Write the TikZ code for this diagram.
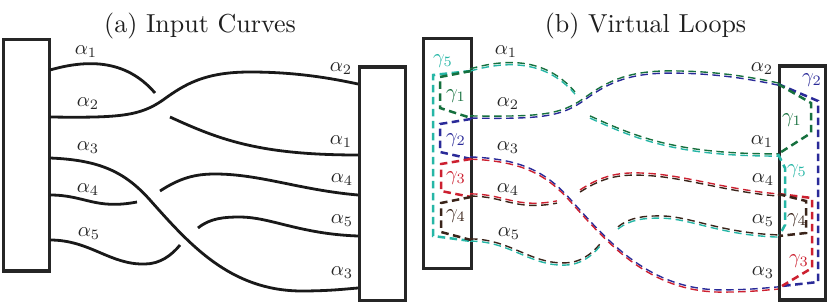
\documentclass[tikz,border=0pt]{standalone}
\definecolor{cgreen}{RGB}{22,112,62}
\definecolor{ccyan}{RGB}{38,182,166}
\definecolor{cblue}{RGB}{42,42,152}
\definecolor{cred}{RGB}{204,32,48}
\definecolor{cbrown}{RGB}{58,36,26}
\def\cAa{(50,70) .. controls (85,60) and (125,58) .. (155,93)}
\def\cAb{(170,117) .. controls (220,140) and (260,155) .. (358,155)}
\def\cB{(50,117) .. controls (120,118) and (140,116) .. (163,100) .. controls (185,84) and (205,72) .. (250,72) .. controls (295,72) and (330,78) .. (358,84)}
\def\cC{(50,158) .. controls (100,160) and (125,172) .. (150,200) .. controls (190,245) and (230,290) .. (300,291) .. controls (330,291) and (345,289) .. (358,288)}
\def\cDa{(50,195) .. controls (85,195) and (95,210) .. (137,202)}
\def\cDb{(160,191) .. controls (180,178) and (195,174) .. (215,174) .. controls (260,174) and (300,190) .. (358,195)}
\def\cEa{(50,240) .. controls (90,240) and (110,265) .. (145,264) .. controls (160,264) and (172,255) .. (180,245)}
\def\cEb{(198,228) .. controls (210,218) and (225,217) .. (240,217) .. controls (270,217) and (300,234) .. (358,236)}
\begin{document}
\begin{tikzpicture}[x=1pt,y=-1pt,
  boxr/.style={draw=black!85, line width=3.2pt, inner sep=0pt, outer sep=0pt},
  curve/.style={line width=2.8pt, black!90},
  vl/.style={line width=1.4pt, dash pattern=on 7.5pt off 4.5pt},
  vup/.style={vl, yshift=1.1pt},
  vdn/.style={vl, yshift=-1.1pt},
  lp/.style={line width=2.5pt, dash pattern=on 7.5pt off 4.5pt},
  ttl/.style={font=\fontsize{10}{12}\selectfont, scale=2.6, transform shape, anchor=base, inner sep=0pt, text=black!88},
  al/.style={font=\fontsize{10}{12}\selectfont, scale=2.05, transform shape, inner sep=0pt, text=black!85},
]
\useasboundingbox (0,0) rectangle (830,307);

% ---------- (a) ----------
\node[ttl] (ta) at (200,33) {(a) Input Curves};
\node[boxr, minimum width=46pt, minimum height=231.5pt] (aL) at (26.3,155.25) {};
\node[boxr, minimum width=46pt, minimum height=233.5pt] (aR) at (382.7,183.75) {};
\draw[curve] \cAa;
\draw[curve] \cAb;
\draw[curve] \cB;
\draw[curve] \cC;
\draw[curve] \cDa;
\draw[curve] \cDb;
\draw[curve] \cEa;
\draw[curve] \cEb;
\node[al] (aa1) at (86,52) {$\alpha_1$};
\node[al] (aa2) at (88,104) {$\alpha_2$};
\node[al] (aa3) at (88,148) {$\alpha_3$};
\node[al] (aa4) at (88,190) {$\alpha_4$};
\node[al] (aa5) at (89,234) {$\alpha_5$};
\node[al] (ab2) at (341,69) {$\alpha_2$};
\node[al] (ab1) at (341,142) {$\alpha_1$};
\node[al] (ab4) at (342,180) {$\alpha_4$};
\node[al] (ab5) at (342,221) {$\alpha_5$};
\node[al] (ab3) at (342,273) {$\alpha_3$};

% ---------- (b) ----------
\node[ttl] (tb) at (645.5,33) {(b) Virtual Loops};
\node[boxr, minimum width=47.6pt, minimum height=230pt] (bL) at (447.5,153.5) {};
\node[boxr, minimum width=46pt, minimum height=234pt] (bR) at (802.5,183) {};
\begin{scope}[shift={(420,0)}]
\draw[vup,cgreen] \cAa;  \draw[vdn,ccyan] \cAa;
\draw[vup,cgreen] \cAb;  \draw[vdn,ccyan] \cAb;
\draw[vup,cgreen] \cB;   \draw[vdn,cblue] \cB;
\draw[vup,cblue] \cC;    \draw[vdn,cred] \cC;
\draw[vup,cred] \cDa;    \draw[vdn,cbrown] \cDa;
\draw[vup,cred] \cDb;    \draw[vdn,cbrown] \cDb;
\draw[vup,cbrown] \cEa;  \draw[vdn,ccyan] \cEa;
\draw[vup,cbrown] \cEb;  \draw[vdn,ccyan] \cEb;
\end{scope}
% left-box loops
\draw[lp,ccyan] (471,71) -- (433,75) -- (433,236) -- (471,241);
\draw[lp,cgreen] (471,71) -- (440,77) -- (440,108) -- (471,118);
\draw[lp,cblue] (471,119) -- (440,124) -- (440,152) -- (471,159);
\draw[lp,cred] (471,159) -- (441,164) -- (441,191) -- (471,197);
\draw[lp,cbrown] (471,197) -- (441,203) -- (441,232) -- (471,240);
% right-box loops
\draw[lp,cblue] (778,84) -- (818,101) -- (818,282) -- (782,286);
\draw[lp,cgreen] (778,84) -- (811,103) -- (811,133) -- (778,154);
\draw[lp,ccyan] (778,154) -- (785,168) -- (785,225) -- (779,236);
\draw[lp,cred] (778,194) -- (812,198) -- (812,268) -- (782,286);
\draw[lp,cbrown] (778,194) -- (806,201) -- (806,233) -- (779,236);
% labels
\node[al] (ba1) at (506,52) {$\alpha_1$};
\node[al] (ba2) at (508,104) {$\alpha_2$};
\node[al] (ba3) at (508,148) {$\alpha_3$};
\node[al] (ba4) at (508,190) {$\alpha_4$};
\node[al] (ba5) at (509,234) {$\alpha_5$};
\node[al] (bb2) at (762,69) {$\alpha_2$};
\node[al] (bb1) at (762,142) {$\alpha_1$};
\node[al] (bb4) at (763,180) {$\alpha_4$};
\node[al] (bb5) at (763,221) {$\alpha_5$};
\node[al] (bb3) at (763,273) {$\alpha_3$};
\node[al,text=ccyan] (g5l) at (443,61) {$\gamma_5$};
\node[al,text=cgreen] (g1l) at (456,96) {$\gamma_1$};
\node[al,text=cblue] (g2l) at (456,140) {$\gamma_2$};
\node[al,text=cred] (g3l) at (456,178) {$\gamma_3$};
\node[al,text=cbrown] (g4l) at (456,216) {$\gamma_4$};
\node[al,text=cblue] (g2r) at (812,80) {$\gamma_2$};
\node[al,text=cgreen] (g1r) at (792,120) {$\gamma_1$};
\node[al,text=ccyan] (g5r) at (797,171) {$\gamma_5$};
\node[al,text=cbrown] (g4r) at (797,220) {$\gamma_4$};
\node[al,text=cred] (g3r) at (799,261) {$\gamma_3$};
\end{tikzpicture}
\end{document}
